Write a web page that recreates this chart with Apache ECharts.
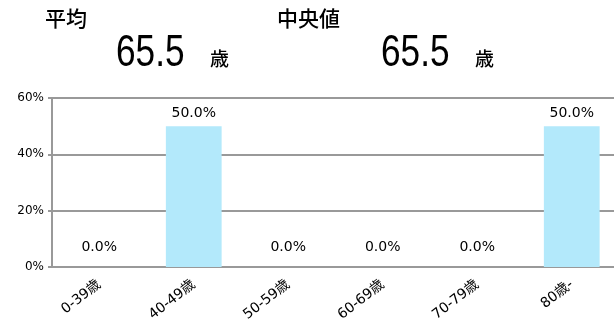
<!DOCTYPE html>
<html><head><meta charset="utf-8">
<script src="https://cdn.jsdelivr.net/npm/echarts@6/dist/echarts.min.js"></script>
<style>html,body{margin:0;padding:0;background:#fff}#c{width:614px;height:326px}</style>
</head><body><div id="c"></div>
<script>
const categories = ['0-39歳','40-49歳','50-59歳','60-69歳','70-79歳','80歳-'];
const shares = [0.0, 50.0, 0.0, 0.0, 0.0, 50.0];
const yTicks = [0, 20, 40, 60];
const meanLabel = '平均';
const meanValue = '65.5';
const medianLabel = '中央値';
const medianValue = '65.5';
const unitLabel = '歳';

const cjk = '"Noto Sans CJK JP", "Noto Sans", sans-serif';
const lat = '"DejaVu Sans", "Noto Sans CJK JP", sans-serif';
const big = '44px "Liberation Sans", sans-serif';
const chart = echarts.init(document.getElementById('c'));
chart.setOption({
  animation: false,
  grid: { left: 52, width: 567, top: 98, height: 169, outerBoundsMode: 'none', containLabel: false },
  graphic: [
    { type: 'text', left: 45, top: 8, style: { text: meanLabel, font: '500 21px ' + cjk, fill: '#000' } },
    { type: 'text', left: 277, top: 8, style: { text: medianLabel, font: '500 21px ' + cjk, fill: '#000' } },
    { type: 'text', x: 116, y: 32, scaleX: 0.8, style: { text: meanValue, font: big, fill: '#000' } },
    { type: 'text', x: 381, y: 32, scaleX: 0.8, style: { text: medianValue, font: big, fill: '#000' } },
    { type: 'text', left: 210, top: 49, style: { text: unitLabel, font: '500 19px ' + cjk, fill: '#000' } },
    { type: 'text', left: 475, top: 49, style: { text: unitLabel, font: '500 19px ' + cjk, fill: '#000' } }
  ],
  xAxis: {
    type: 'category', data: categories,
    axisLine: { lineStyle: { color: '#999', width: 2 } },
    axisTick: { show: false },
    axisLabel: { rotate: 38, fontSize: 14, color: '#000', fontFamily: lat, margin: 16, interval: 0 }
  },
  yAxis: {
    type: 'value', min: 0, max: 60, interval: 20,
    axisLine: { show: true, lineStyle: { color: '#999', width: 2 } },
    axisTick: { show: true, length: 4, lineStyle: { color: '#999', width: 2 } },
    splitLine: { lineStyle: { color: '#999', width: 2 } },
    axisLabel: { formatter: v => yTicks.includes(v) ? v + '%' : '', fontSize: 12, color: '#000', fontFamily: lat, margin: 8 }
  },
  series: [{
    type: 'bar', barWidth: '59%',
    itemStyle: { color: '#b3e9fb' },
    label: { show: true, position: 'top', distance: 6, fontSize: 14, color: '#000', fontFamily: lat, formatter: p => p.value.toFixed(1) + '%' },
    data: shares.map(v => v === 0 ? { value: v, label: { distance: 13 } } : v)
  }]
});
</script></body></html>
